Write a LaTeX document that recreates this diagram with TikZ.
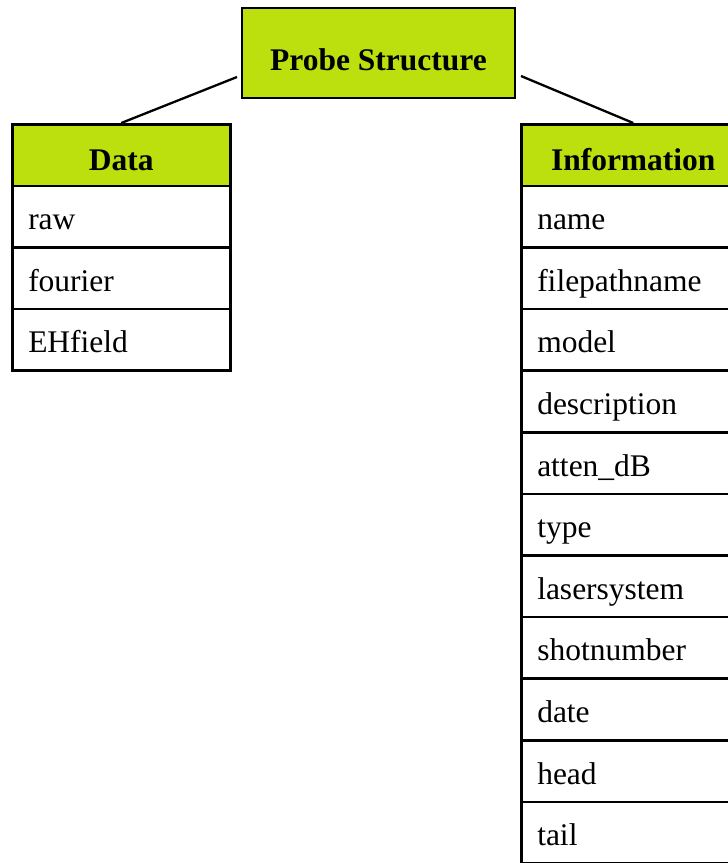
\documentclass[tikz,border=0pt]{standalone}
\usepackage{fontspec}
\setmainfont{Liberation Serif}
\definecolor{hdr}{RGB}{188,224,14}
\tikzset{
  cellbox/.style={draw, line width=2.5pt, anchor=north west, inner xsep=16pt, inner ysep=0pt,
    minimum height=61.6pt, text height=32pt, text depth=6pt,
    font=\fontsize{31.5}{36}\selectfont, align=left},
  headbox/.style={cellbox, fill=hdr, align=center, text height=34pt, text depth=4pt,
    font=\fontsize{31.5}{36}\selectfont\bfseries},
  link/.style={line width=2.3pt}
}
\begin{document}
\begin{tikzpicture}[x=1pt,y=-1pt]
\useasboundingbox (0,0) rectangle (728,863);
\clip (0,0) rectangle (728,863);
\node[draw, line width=2.5pt, fill=hdr, minimum width=273pt, minimum height=90pt,
  text height=38pt, text depth=4pt, inner ysep=0pt,
  font=\fontsize{31.5}{36}\selectfont\bfseries] (top) at (378.5,53) {Probe Structure};
% Data table
\node[headbox, text width=186pt] (d0) at (11,123) {Data};
\foreach \t [count=\i] in {raw, fourier, EHfield}{
  \node[cellbox, text width=186pt] (d\i) at (11,{123+61.6*\i}) {\t};
}
% Information table
\node[headbox, text width=192pt] (i0) at (520,123) {Information};
\foreach \t [count=\i] in {name, filepathname, model, description, atten\_dB, type, lasersystem, shotnumber, date, head, tail}{
  \node[cellbox, text width=192pt] (i\i) at (520,{123+61.6*\i}) {\t};
}
\coordinate (tl) at (237,77);
\coordinate (tr) at (521,76);
\draw[link] (tl) -- (d0.north);
\draw[link] (tr) -- (i0.north);
\end{tikzpicture}
\end{document}
